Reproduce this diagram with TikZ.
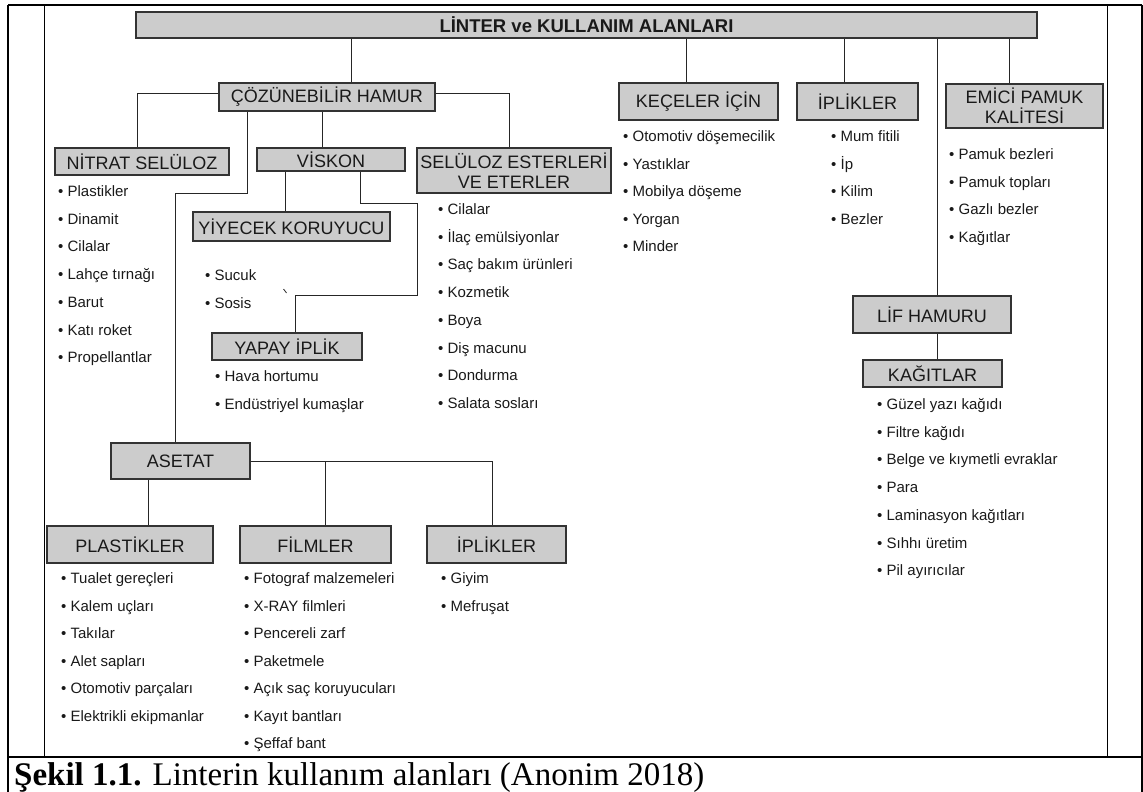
\documentclass[tikz,border=0pt]{standalone}
\usepackage{fontspec}
\setmainfont{Liberation Sans}
\newfontfamily\capfont{Liberation Serif}
\newcommand\bullist[5]{%
  \foreach \t [count=\i] in {#5}
    \node[item] (#1\i) at (#2, {#3+5.5+(\i-1)*#4}) {• \t};}
\begin{document}
\begin{tikzpicture}[x=1pt,y=-1pt,
  box/.style={draw=black!80, line width=1.1pt, fill=black!20, inner sep=0pt,
    align=center, font=\fontsize{18}{20}\selectfont, text=black!90},
  item/.style={anchor=base west, inner sep=0pt, font=\fontsize{15}{18}\selectfont, text=black!90},
  conn/.style={draw=black!85, line width=1pt},
  frame/.style={line width=2.5pt},
  thinframe/.style={line width=1pt}]
\useasboundingbox (0,0) rectangle (1143,792);

% table frame
\draw[frame] (8,5) -- (1142,5);
\draw[frame] (8,5) -- (8,792);
\draw[frame] (1142,5) -- (1142,792);
\draw[frame] (8,757) -- (1142,757);
\draw[thinframe] (44,5) -- (44,757);
\draw[thinframe] (1107,5) -- (1107,757);

% boxes
\node[box, minimum width=901pt, minimum height=26pt] (title) at (586.5,25) {\fontsize{18.5}{20}\selectfont\bfseries LİNTER ve KULLANIM ALANLARI};
\node[box, minimum width=216pt, minimum height=28pt] (coz) at (327,97) {ÇÖZÜNEBİLİR HAMUR};
\node[box, minimum width=174pt, minimum height=27pt] (nitrat) at (142,161.5) {NİTRAT SELÜLOZ};
\node[box, minimum width=148pt, minimum height=23pt] (viskon) at (331,159.5) {VİSKON};
\node[box, minimum width=194pt, minimum height=45pt] (selu) at (514,170.5) {SELÜLOZ ESTERLERİ\\VE ETERLER};
\node[box, minimum width=159pt, minimum height=37pt] (kece) at (698.5,101.5) {KEÇELER İÇİN};
\node[box, minimum width=121pt, minimum height=37pt] (iplikA) at (857.5,101.5) {İPLİKLER};
\node[box, minimum width=157pt, minimum height=44pt] (emici) at (1024.5,106) {EMİCİ PAMUK\\KALİTESİ};
\node[box, minimum width=158pt, minimum height=37pt] (lif) at (932,314.5) {LİF HAMURU};
\node[box, minimum width=139pt, minimum height=27pt] (kagit) at (932.5,373.5) {KAĞITLAR};
\node[box, minimum width=197pt, minimum height=29pt] (yiyecek) at (291.5,226.5) {YİYECEK KORUYUCU};
\node[box, minimum width=150pt, minimum height=27pt] (yapay) at (287,346.5) {YAPAY İPLİK};
\node[box, minimum width=139pt, minimum height=36pt] (asetat) at (180.5,461) {ASETAT};
\node[box, minimum width=166pt, minimum height=37pt] (plast) at (130,544.5) {PLASTİKLER};
\node[box, minimum width=151pt, minimum height=37pt] (film) at (315.5,544.5) {FİLMLER};
\node[box, minimum width=139pt, minimum height=37pt] (iplikB) at (496.5,544.5) {İPLİKLER};

% connectors
\draw[conn] (title.south -| 351,0) -- (coz.north -| 351,0);
\draw[conn] (title.south -| 686,0) -- (kece.north -| 686,0);
\draw[conn] (title.south -| 844,0) -- (iplikA.north -| 844,0);
\draw[conn] (title.south -| 937,0) -- (lif.north -| 937,0);
\draw[conn] (title.south -| 1009,0) -- (emici.north -| 1009,0);
\draw[conn] (lif.south -| 937,0) -- (kagit.north -| 937,0);
\draw[conn] (coz.west |- 0,93) -| (nitrat.north -| 137,0);
\draw[conn] (coz.east |- 0,93) -| (selu.north -| 509,0);
\draw[conn] (coz.south -| 322,0) -- (viskon.north -| 322,0);
\draw[conn] (coz.south -| 247,0) |- (175,193) -- (asetat.north -| 175,0);
\draw[conn] (viskon.south -| 285,0) -- (yiyecek.north -| 285,0);
\draw[conn] (viskon.south -| 360,0) |- (417,203) |- (295,295) -- (yapay.north -| 295,0);
\draw[conn, line width=0.8pt] (283.5,289) -- (286.5,293);
\draw[conn] (asetat.south -| 148,0) -- (plast.north -| 148,0);
\draw[conn] (asetat.east) -| (film.north -| 325,0);
\draw[conn] (asetat.east) -| (iplikB.north -| 492,0);

% item lists
\bullist{nit}{58}{191}{27.7}{Plastikler, Dinamit, Cilalar, Lahçe tırnağı, Barut, Katı roket, Propellantlar}
\bullist{yiy}{205}{275}{28}{Sucuk, Sosis}
\bullist{yap}{215}{376}{28}{Hava hortumu, Endüstriyel kumaşlar}
\bullist{sel}{438}{209}{27.7}{Cilalar, İlaç emülsiyonlar, Saç bakım ürünleri, Kozmetik, Boya, Diş macunu, Dondurma, Salata sosları}
\bullist{kec}{623}{136}{27.5}{Otomotiv döşemecilik, Yastıklar, Mobilya döşeme, Yorgan, Minder}
\bullist{ipa}{831}{136}{27.7}{Mum fitili, İp, Kilim, Bezler}
\bullist{emi}{949}{154}{27.7}{Pamuk bezleri, Pamuk topları, Gazlı bezler, Kağıtlar}
\bullist{kag}{877}{404}{27.7}{Güzel yazı kağıdı, Filtre kağıdı, Belge ve kıymetli evraklar, Para, Laminasyon kağıtları, Sıhhı üretim, Pil ayırıcılar}
\bullist{pla}{61}{578}{27.5}{Tualet gereçleri, Kalem uçları, Takılar, Alet sapları, Otomotiv parçaları, Elektrikli ekipmanlar}
\bullist{fil}{244}{578}{27.5}{Fotograf malzemeleri, X-RAY filmleri, Pencereli zarf, Paketmele, Açık saç koruyucuları, Kayıt bantları, Şeffaf bant}
\bullist{ipb}{441}{578}{27.5}{Giyim, Mefruşat}

% caption
\node[anchor=base west, inner sep=0pt, font=\capfont\fontsize{33}{35}\selectfont] (cap) at (14,785) {\textbf{Şekil 1.1.} Linterin kullanım alanları (Anonim 2018)};
\end{tikzpicture}
\end{document}
